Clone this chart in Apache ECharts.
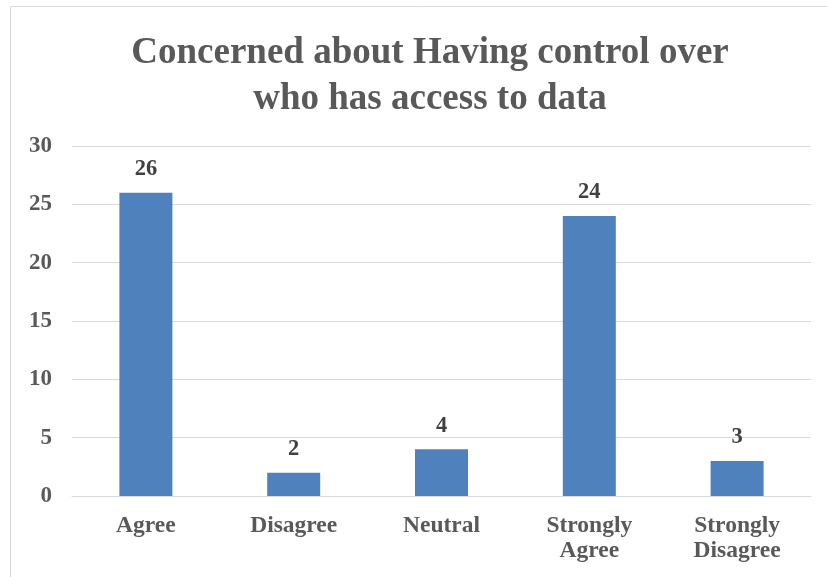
<!DOCTYPE html>
<html>
<head>
<meta charset="utf-8">
<script src="https://cdn.jsdelivr.net/npm/echarts@6/dist/echarts.min.js"></script>
<style>
  html, body { margin: 0; padding: 0; background: #fff; }
  #chart { width: 827px; height: 577px; }
</style>
</head>
<body>
<div id="chart"></div>
<script>
// Survey responses
const categories = ['Agree', 'Disagree', 'Neutral', 'Strongly\nAgree', 'Strongly\nDisagree'];
const counts = [26, 2, 4, 24, 3];
const yTicks = { min: 0, max: 30, interval: 5 };
const titleText = 'Concerned about Having control over\nwho has access to data';

const serif = 'Liberation Serif';
const chart = echarts.init(document.getElementById('chart'));

chart.setOption({
  backgroundColor: '#ffffff',
  animation: false,
  graphic: [{
    type: 'rect',
    shape: { x: 10.5, y: 6.5, width: 830, height: 600 },
    style: { fill: 'none', stroke: '#d9d9d9', lineWidth: 1 },
    silent: true
  }],
  title: {
    text: titleText,
    left: 425,
    textAlign: 'center',
    top: 25,
    textStyle: {
      fontFamily: serif,
      fontWeight: 'bold',
      fontSize: 37,
      lineHeight: 46,
      color: '#595959'
    }
  },
  grid: { left: 72, right: 16, top: 146, bottom: 81, containLabel: false },
  xAxis: {
    type: 'category',
    data: categories,
    axisLine: { show: true, lineStyle: { color: '#d9d9d9', width: 1 } },
    axisTick: { show: false },
    axisLabel: {
      fontFamily: serif,
      fontWeight: 'bold',
      fontSize: 23.5,
      lineHeight: 25,
      color: '#595959',
      margin: 17,
      interval: 0
    }
  },
  yAxis: {
    type: 'value',
    min: yTicks.min,
    max: yTicks.max,
    interval: yTicks.interval,
    axisLine: { show: false },
    axisTick: { show: false },
    splitLine: { lineStyle: { color: '#d9d9d9', width: 1 } },
    axisLabel: {
      fontFamily: serif,
      fontWeight: 'bold',
      fontSize: 23,
      color: '#595959',
      margin: 20
    }
  },
  series: [{
    type: 'bar',
    data: counts,
    barWidth: 53,
    itemStyle: { color: '#4f81bd' },
    label: {
      show: true,
      position: 'top',
      distance: 12,
      fontFamily: serif,
      fontWeight: 'bold',
      fontSize: 22.5,
      color: '#404040'
    }
  }]
});
</script>
</body>
</html>
